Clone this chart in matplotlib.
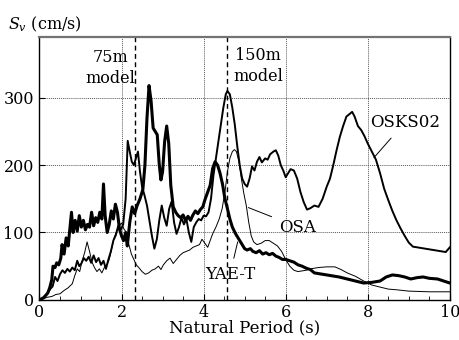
import matplotlib
matplotlib.use('Agg')
import matplotlib.pyplot as plt
from matplotlib.ticker import MultipleLocator

plt.rcParams['font.family'] = 'DejaVu Serif'
plt.rcParams['mathtext.fontset'] = 'dejavuserif'

# velocity response spectra, period (s) vs Sv (cm/s)
t_yae = [0.0, 0.1, 0.2, 0.25, 0.3, 0.33, 0.38, 0.42, 0.47, 0.52, 0.55, 0.6, 0.65, 0.7, 0.75,
         0.78, 0.82, 0.87, 0.92, 0.97, 1.02, 1.07, 1.12, 1.17, 1.22, 1.27, 1.32, 1.37, 1.42,
         1.47, 1.52, 1.56, 1.6, 1.65, 1.7, 1.75, 1.8, 1.85, 1.9, 1.95, 2.0, 2.05, 2.1, 2.14,
         2.2, 2.26, 2.32, 2.38, 2.45, 2.52, 2.57, 2.62, 2.67, 2.72, 2.77, 2.82, 2.87, 2.92,
         2.96, 3.0, 3.05, 3.1, 3.15, 3.2, 3.26, 3.32, 3.38, 3.44, 3.5, 3.56, 3.62, 3.68, 3.74,
         3.8, 3.86, 3.92, 3.98, 4.04, 4.1, 4.16, 4.22, 4.28, 4.34, 4.4, 4.46, 4.52, 4.57, 4.64,
         4.7, 4.78, 4.86, 4.94, 5.0, 5.06, 5.14, 5.2, 5.28, 5.36, 5.44, 5.52, 5.6, 5.68, 5.76,
         5.84, 5.92, 6.0, 6.1, 6.2, 6.3, 6.4, 6.5, 6.6, 6.7, 6.9, 7.1, 7.3, 7.5, 7.7, 7.9, 8.1,
         8.3, 8.45, 8.6, 8.75, 8.9, 9.05, 9.2, 9.35, 9.5, 9.7, 9.85, 10.0]
sv_yae = [0, 3, 10, 18, 30, 50, 48, 55, 52, 62, 82, 68, 92, 80, 112,
          130, 100, 118, 102, 125, 108, 118, 104, 112, 108, 130, 110, 122, 115,
          130, 120, 172, 125, 100, 112, 132, 120, 142, 130, 105, 95, 88, 100, 80,
          115, 138, 128, 140, 150, 164, 200, 270, 318, 295, 255, 250, 245, 200,
          178, 190, 235, 258, 232, 170, 138, 130, 125, 122, 126, 118, 124, 118, 126,
          132, 128, 134, 138, 150, 160, 170, 195, 205, 200, 188, 172, 150, 138, 120,
          108, 98, 90, 82, 76, 74, 76, 72, 70, 73, 68, 70, 67, 69, 65,
          63, 60, 60, 58, 56, 52, 50, 47, 45, 40, 38, 36, 34, 31, 28, 25, 26,
          28, 34, 37, 36, 34, 31, 33, 34, 32, 31, 28, 25]

t_osks = [0.0, 0.1, 0.2, 0.26, 0.32, 0.38, 0.44, 0.5, 0.56, 0.62, 0.68, 0.74, 0.8, 0.86, 0.92,
          0.97, 1.02, 1.08, 1.14, 1.2, 1.26, 1.32, 1.38, 1.44, 1.5, 1.56, 1.62, 1.68, 1.74,
          1.8, 1.86, 1.92, 1.98, 2.04, 2.1, 2.15, 2.2, 2.25, 2.3, 2.35, 2.4, 2.45, 2.5, 2.56,
          2.62, 2.68, 2.74, 2.8, 2.86, 2.92, 2.98, 3.04, 3.1, 3.16, 3.22, 3.28, 3.34, 3.4,
          3.46, 3.52, 3.58, 3.64, 3.7, 3.76, 3.82, 3.88, 3.94, 4.0, 4.06, 4.12, 4.18, 4.24,
          4.3, 4.36, 4.42, 4.48, 4.54, 4.58, 4.64, 4.7, 4.76, 4.82, 4.88, 4.94, 5.0, 5.06,
          5.12, 5.18, 5.24, 5.3, 5.36, 5.42, 5.5, 5.56, 5.62, 5.7, 5.76, 5.82, 5.88, 5.94,
          6.0, 6.06, 6.12, 6.2, 6.28, 6.36, 6.44, 6.52, 6.6, 6.7, 6.8, 6.9, 7.0, 7.08, 7.16,
          7.24, 7.32, 7.4, 7.48, 7.56, 7.62, 7.68, 7.76, 7.84, 7.92, 8.0, 8.1, 8.2, 8.3, 8.4,
          8.5, 8.6, 8.7, 8.8, 8.9, 9.0, 9.1, 9.3, 9.5, 9.7, 9.9, 10.0]
sv_osks = [0, 4, 10, 16, 20, 34, 28, 38, 44, 40, 46, 42, 48, 44, 58,
           50, 54, 62, 58, 64, 55, 66, 56, 62, 52, 58, 46, 60, 72,
           88, 96, 110, 104, 112, 150, 236, 220, 205, 200, 210, 220, 190, 168, 155,
           140, 118, 95, 76, 90, 118, 140, 122, 110, 135, 146, 115, 98, 108,
           122, 112, 120, 100, 86, 108, 115, 120, 118, 125, 124, 130, 150, 185,
           210, 235, 260, 285, 305, 310, 305, 285, 260, 228, 200, 180, 172, 168,
           180, 198, 192, 205, 212, 204, 210, 208, 216, 220, 222, 214, 200, 192,
           182, 188, 194, 192, 180, 160, 145, 134, 136, 140, 138, 150, 168, 180, 200,
           222, 242, 258, 272, 276, 279, 272, 258, 252, 243, 232, 220, 208, 188, 165,
           148, 132, 118, 106, 95, 85, 79, 77, 75, 73, 71, 78]

t_osa = [0.0, 0.1, 0.2, 0.3, 0.4, 0.5, 0.6, 0.7, 0.8, 0.86, 0.92, 0.98, 1.04, 1.1, 1.16,
         1.22, 1.28, 1.34, 1.4, 1.46, 1.52, 1.58, 1.64, 1.7, 1.76, 1.82, 1.88, 1.94, 2.0,
         2.06, 2.12, 2.18, 2.24, 2.3, 2.36, 2.42, 2.5, 2.58, 2.66, 2.74, 2.82, 2.9, 2.96,
         3.02, 3.1, 3.18, 3.26, 3.34, 3.42, 3.5, 3.58, 3.66, 3.74, 3.82, 3.9, 3.96, 4.02,
         4.1, 4.16, 4.22, 4.3, 4.38, 4.45, 4.52, 4.58, 4.64, 4.7, 4.75, 4.8, 4.86, 4.92,
         4.98, 5.04, 5.1, 5.16, 5.22, 5.3, 5.4, 5.5, 5.6, 5.7, 5.8, 5.9, 6.0, 6.1, 6.2,
         6.3, 6.4, 6.5, 6.6, 6.8, 7.0, 7.2, 7.35, 7.5, 7.7, 7.9, 8.1, 8.3, 8.5, 8.7, 9.0,
         9.5, 10.0]
sv_osa = [0, 2, 4, 5, 8, 9, 14, 18, 24, 36, 46, 42, 58, 70, 86,
          72, 56, 48, 42, 46, 40, 48, 52, 60, 76, 92, 102, 110, 114,
          105, 100, 82, 68, 60, 52, 48, 42, 38, 40, 44, 46, 50, 45,
          52, 58, 62, 54, 60, 66, 70, 72, 74, 78, 80, 82, 90, 85,
          78, 88, 98, 108, 120, 135, 160, 190, 210, 220, 223, 220, 205, 180,
          158, 140, 115, 95, 86, 82, 84, 88, 88, 84, 80, 72, 60, 50, 44,
          42, 43, 44, 46, 48, 49, 49, 45, 40, 35, 28, 22, 19, 16, 15, 13,
          12, 12]

model_periods = [2.34, 4.56]

fig = plt.figure(figsize=(4.59, 3.40), dpi=100)
ax = fig.add_axes([0.086, 0.118, 0.894, 0.773])

ax.plot(t_osa, sv_osa, color='black', lw=0.7)
ax.plot(t_osks, sv_osks, color='black', lw=1.4)
ax.plot(t_yae, sv_yae, color='black', lw=2.2)

for p in model_periods:
    ax.axvline(p, color='black', lw=1.0, ls=(0, (3.5, 2.5)))

ax.set_xlim(0, 10)
ax.set_ylim(0, 390)
ax.xaxis.set_major_locator(MultipleLocator(2))
ax.xaxis.set_minor_locator(MultipleLocator(0.5))
ax.yaxis.set_major_locator(MultipleLocator(100))
ax.grid(True, which='major', color='0.35', ls=(0, (1, 1)), lw=0.7)
ax.tick_params(direction='in', labelsize=11.5, length=4)
ax.tick_params(axis='x', pad=3)
ax.tick_params(axis='y', pad=4)
ax.tick_params(which='minor', direction='in', length=3)
for s in ax.spines.values():
    s.set_linewidth(1.0)
ax.spines['top'].set_color('0.45')
ax.spines['top'].set_linewidth(1.6)

ax.set_xlabel('Natural Period (s)', fontsize=12, labelpad=-1)
fig.text(0.018, 0.93, r'$S_v$ (cm/s)', fontsize=11.5, va='center')

ax.text(1.72, 344, '75m\nmodel', fontsize=11.5, ha='center', va='center', linespacing=1.3)
ax.text(5.33, 347, '150m\nmodel', fontsize=11.5, ha='center', va='center', linespacing=1.3)

ax.annotate('OSKS02', xy=(8.15, 211), xytext=(8.9, 263), fontsize=12,
            ha='center', va='center',
            arrowprops=dict(arrowstyle='-', color='black', lw=0.7, shrinkA=4, shrinkB=0))
ax.annotate('OSA', xy=(5.09, 137), xytext=(6.3, 108), fontsize=12,
            ha='center', va='center',
            arrowprops=dict(arrowstyle='-', color='black', lw=0.7, shrinkA=4, shrinkB=0))
ax.annotate('YAE-T', xy=(4.83, 86), xytext=(4.64, 37), fontsize=12,
            ha='center', va='center',
            arrowprops=dict(arrowstyle='-', color='black', lw=0.7, shrinkA=4, shrinkB=0))

fig.savefig('out.png', dpi=100)
